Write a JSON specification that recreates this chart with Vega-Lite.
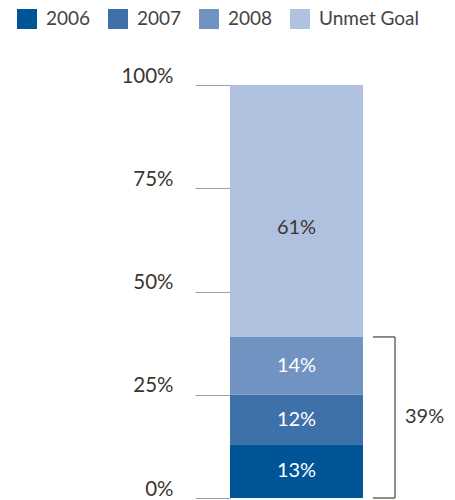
{
  "$schema": "https://vega.github.io/schema/vega-lite/v6.json",
  "width": 225,
  "height": 413,
  "autosize": "none",
  "padding": {"left": 230, "top": 85, "right": 0, "bottom": 2},
  "background": "white",
  "config": {"view": {"stroke": null}, "font": "Lato"},
  "datasets": {
    "progress": [
      {"year": "2006", "share": 0.13},
      {"year": "2007", "share": 0.12},
      {"year": "2008", "share": 0.14},
      {"year": "Unmet Goal", "share": 0.61}
    ],
    "bracket": [{"low": 0, "high": 0.39, "label": "39%"}]
  },
  "layer": [
    {
      "data": {"name": "progress"},
      "transform": [
        {"stack": "share", "groupby": [], "sort": [{"field": "year", "order": "ascending"}], "as": ["y0", "y1"]}
      ],
      "mark": {"type": "bar", "strokeWidth": 0},
      "encoding": {
        "x": {"datum": 0, "type": "quantitative", "scale": {"domain": [0, 1.692], "nice": false, "zero": false}, "axis": null},
        "x2": {"datum": 1},
        "y": {
          "field": "y0", "type": "quantitative", "scale": {"domain": [0, 1], "nice": false},
          "axis": {
            "values": [0, 0.25, 0.5, 0.75, 1], "format": ".0%", "title": null,
            "domain": false, "grid": false, "tickSize": 35, "tickColor": "#a0a0a0", "tickWidth": 1,
            "labelPadding": 22, "labelFontSize": 20.5, "labelColor": "#3b3631",
            "labelBaseline": "alphabetic", "labelOffset": -3, "labelFlush": false, "labelFont": "Lato"
          }
        },
        "y2": {"field": "y1"},
        "color": {
          "field": "year", "type": "nominal",
          "scale": {"domain": ["2006", "2007", "2008", "Unmet Goal"], "range": ["#005596", "#3e70aa", "#7193c2", "#b0c1df"]},
          "legend": {
            "orient": "none", "legendX": -213, "legendY": -76, "direction": "horizontal",
            "title": null, "symbolType": "square", "symbolSize": 400, "symbolStrokeWidth": 0,
            "symbolOpacity": 1, "labelFontSize": 19, "labelColor": "#444444", "labelFont": "Lato",
            "labelOffset": 9, "columnPadding": 17
          }
        }
      }
    },
    {
      "data": {"name": "progress"},
      "transform": [
        {"stack": "share", "groupby": [], "sort": [{"field": "year", "order": "ascending"}], "as": ["y0", "y1"]},
        {"calculate": "(datum.y0 + datum.y1) / 2", "as": "mid"},
        {"filter": "datum.year !== 'Unmet Goal'"}
      ],
      "mark": {"type": "text", "align": "center", "baseline": "middle", "fontSize": 20, "font": "Lato", "color": "#ffffff"},
      "encoding": {
        "x": {"datum": 0.5, "type": "quantitative"},
        "y": {"field": "mid", "type": "quantitative"},
        "text": {"field": "share", "type": "quantitative", "format": ".0%"}
      }
    },
    {
      "data": {"name": "progress"},
      "transform": [
        {"stack": "share", "groupby": [], "sort": [{"field": "year", "order": "ascending"}], "as": ["y0", "y1"]},
        {"calculate": "(datum.y0 + datum.y1) / 2", "as": "mid"},
        {"filter": "datum.year === 'Unmet Goal'"}
      ],
      "mark": {"type": "text", "align": "center", "baseline": "middle", "fontSize": 20, "font": "Lato", "color": "#3b3631", "dy": 17},
      "encoding": {
        "x": {"datum": 0.5, "type": "quantitative"},
        "y": {"field": "mid", "type": "quantitative"},
        "text": {"field": "share", "type": "quantitative", "format": ".0%"}
      }
    },
    {
      "data": {"name": "bracket"},
      "mark": {"type": "rule", "color": "#6a6a60", "strokeWidth": 1.5},
      "encoding": {
        "x": {"datum": 1.241, "type": "quantitative"},
        "y": {"field": "low", "type": "quantitative"},
        "y2": {"field": "high"}
      }
    },
    {
      "data": {"name": "bracket"},
      "mark": {"type": "rule", "color": "#6a6a60", "strokeWidth": 1.5},
      "encoding": {
        "x": {"datum": 1.075, "type": "quantitative"},
        "x2": {"datum": 1.241},
        "y": {"field": "low", "type": "quantitative"}
      }
    },
    {
      "data": {"name": "bracket"},
      "mark": {"type": "rule", "color": "#6a6a60", "strokeWidth": 1.5},
      "encoding": {
        "x": {"datum": 1.075, "type": "quantitative"},
        "x2": {"datum": 1.241},
        "y": {"field": "high", "type": "quantitative"}
      }
    },
    {
      "data": {"name": "bracket"},
      "transform": [{"calculate": "(datum.low + datum.high) / 2", "as": "mid"}],
      "mark": {"type": "text", "align": "left", "baseline": "middle", "fontSize": 20, "font": "Lato", "color": "#3b3631"},
      "encoding": {
        "x": {"datum": 1.316, "type": "quantitative"},
        "y": {"field": "mid", "type": "quantitative"},
        "text": {"field": "label"}
      }
    }
  ]
}
